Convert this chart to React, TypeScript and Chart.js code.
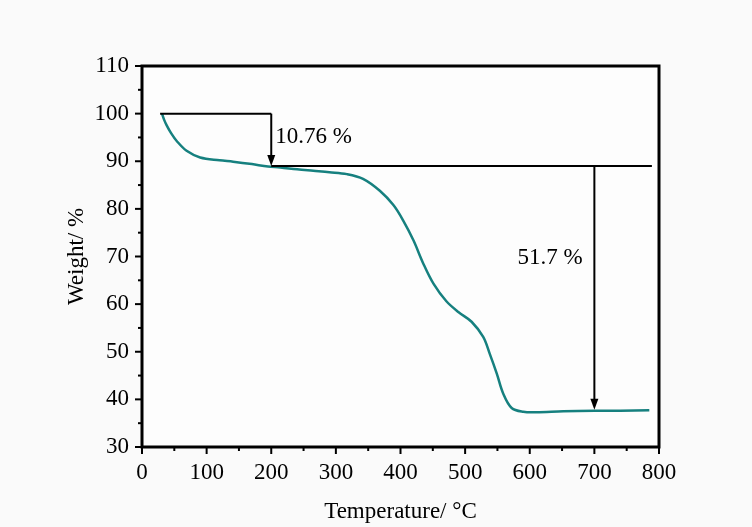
import React, { useEffect, useRef } from "react";
import { Chart, registerables } from "chart.js";

Chart.register(...registerables);

const temperatures = [31, 34, 38, 45, 54, 69, 90, 120, 141, 170, 195, 214, 240, 265, 290, 317, 342, 368, 389, 404, 420, 435, 451, 471, 490, 510, 528, 538, 549, 559, 572, 590, 610, 652, 700, 740, 785];
const weights = [100, 98.8, 97.6, 95.9, 94.2, 92.2, 90.8, 90.2, 89.9, 89.4, 88.9, 88.7, 88.3, 88.0, 87.7, 87.3, 86.3, 83.8, 80.8, 77.6, 73.4, 68.6, 64.3, 60.6, 58.3, 56.3, 53.1, 49.6, 45.4, 41.2, 38.2, 37.4, 37.3, 37.5, 37.6, 37.6, 37.7];

// annotation values (data units)
const step1Line = { from: 28, to: 200, level: 100 };
const step1Arrow = { at: 200, top: 100, bottom: 89.0 };
const step2Line = { from: 200, to: 789, level: 89.0 };
const step2Arrow = { at: 700, top: 89.0, bottom: 37.8 };
const annotationLabels = [
  { text: "10.76 %", x: 206, y: 95 },
  { text: "51.7 %", x: 581, y: 69.6 },
];

const xMajorTicks = [0, 100, 200, 300, 400, 500, 600, 700, 800];
const xMinorTicks = [50, 150, 250, 350, 450, 550, 650, 750];
const yMajorTicks = [30, 40, 50, 60, 70, 80, 90, 100, 110];
const yMinorTicks = [35, 45, 55, 65, 75, 85, 95, 105];

const xTitle = "Temperature/ °C";
const yTitle = "Weight/ %";

const FONT = "'Liberation Serif', 'Times New Roman', serif";

const W = 752;
const H = 527;
const LEFT = 142;
const RIGHT = 659;
const TOP = 66;
const BOTTOM = 447;

const decorPlugin = {
  id: "decor",
  beforeDraw(chart: any) {
    const ctx = chart.ctx;
    ctx.save();
    ctx.fillStyle = "#fafafa";
    ctx.fillRect(0, 0, chart.width, chart.height);
    const a = chart.chartArea;
    ctx.fillStyle = "#fdfdfd";
    ctx.fillRect(a.left, a.top, a.right - a.left, a.bottom - a.top);
    ctx.restore();
  },
  afterDraw(chart: any) {
    const ctx = chart.ctx;
    const xs = chart.scales.x;
    const ys = chart.scales.y;
    const a = chart.chartArea;
    ctx.save();
    ctx.strokeStyle = "#000";
    ctx.fillStyle = "#000";
    ctx.lineWidth = 2;
    const seg = (x1: number, y1: number, x2: number, y2: number) => {
      ctx.beginPath();
      ctx.moveTo(x1, y1);
      ctx.lineTo(x2, y2);
      ctx.stroke();
    };
    xMajorTicks.forEach((v) => {
      const px = xs.getPixelForValue(v);
      seg(px, a.bottom, px, a.bottom + 7);
    });
    xMinorTicks.forEach((v) => {
      const px = xs.getPixelForValue(v);
      seg(px, a.bottom, px, a.bottom + 4);
    });
    yMajorTicks.forEach((v) => {
      const py = ys.getPixelForValue(v);
      seg(a.left, py, a.left - 7, py);
    });
    yMinorTicks.forEach((v) => {
      const py = ys.getPixelForValue(v);
      seg(a.left, py, a.left - 4, py);
    });
    // frame
    ctx.lineWidth = 3;
    ctx.strokeRect(a.left, a.top, a.right - a.left, a.bottom - a.top);

    // annotations
    ctx.lineWidth = 2;
    const hline = (l: any) => {
      const y = ys.getPixelForValue(l.level);
      seg(xs.getPixelForValue(l.from), y, xs.getPixelForValue(l.to), y);
    };
    const arrow = (ar: any) => {
      const x = xs.getPixelForValue(ar.at);
      const y1 = ys.getPixelForValue(ar.top);
      const y2 = ys.getPixelForValue(ar.bottom);
      seg(x, y1, x, y2 - 8);
      ctx.beginPath();
      ctx.moveTo(x, y2);
      ctx.lineTo(x - 4, y2 - 11);
      ctx.lineTo(x + 4, y2 - 11);
      ctx.closePath();
      ctx.fill();
    };
    hline(step1Line);
    hline(step2Line);
    arrow(step1Arrow);
    arrow(step2Arrow);

    ctx.font = `23px ${FONT}`;
    ctx.textAlign = "left";
    ctx.textBaseline = "middle";
    annotationLabels.forEach((l) => {
      ctx.fillText(l.text, xs.getPixelForValue(l.x), ys.getPixelForValue(l.y));
    });

    // axis titles
    ctx.font = `23px ${FONT}`;
    ctx.textAlign = "center";
    ctx.textBaseline = "middle";
    ctx.fillText(xTitle, (a.left + a.right) / 2, 512);
    ctx.save();
    ctx.translate(77, (a.top + a.bottom) / 2);
    ctx.rotate(-Math.PI / 2);
    ctx.fillText(yTitle, 0, 0);
    ctx.restore();
    ctx.restore();
  },
};

export default function App() {
  const ref = useRef<HTMLCanvasElement | null>(null);
  useEffect(() => {
    if (!ref.current) return;
    const chart = new Chart(ref.current, {
      type: "line",
      data: {
        datasets: [
          {
            data: temperatures.map((t, i) => ({ x: t, y: weights[i] })),
            borderColor: "#16807f",
            borderWidth: 2.5,
            pointRadius: 0,
            tension: 0.35,
            fill: false,
          },
        ],
      },
      options: {
        animation: false,
        responsive: false,
        maintainAspectRatio: false,
        layout: { padding: { top: TOP, right: W - RIGHT, left: 0, bottom: 0 } },
        plugins: { legend: { display: false }, tooltip: { enabled: false } },
        scales: {
          x: {
            type: "linear",
            min: 0,
            max: 800,
            grid: { display: false, drawTicks: false },
            border: { display: false },
            ticks: {
              stepSize: 100,
              padding: 12,
              color: "#000",
              font: { family: FONT, size: 23 },
              maxRotation: 0,
            },
            afterFit: (s: any) => {
              s.height = H - BOTTOM;
            },
          },
          y: {
            type: "linear",
            min: 30,
            max: 110,
            grid: { display: false, drawTicks: false },
            border: { display: false },
            ticks: {
              stepSize: 10,
              padding: 13,
              color: "#000",
              font: { family: FONT, size: 23 },
            },
            afterFit: (s: any) => {
              s.width = LEFT;
            },
          },
        },
      },
      plugins: [decorPlugin],
    });
    return () => chart.destroy();
  }, []);
  return (
    <div style={{ position: "fixed", left: 0, top: 0, width: W, height: H }}>
      <canvas ref={ref} width={W} height={H} style={{ width: W, height: H }} />
    </div>
  );
}
